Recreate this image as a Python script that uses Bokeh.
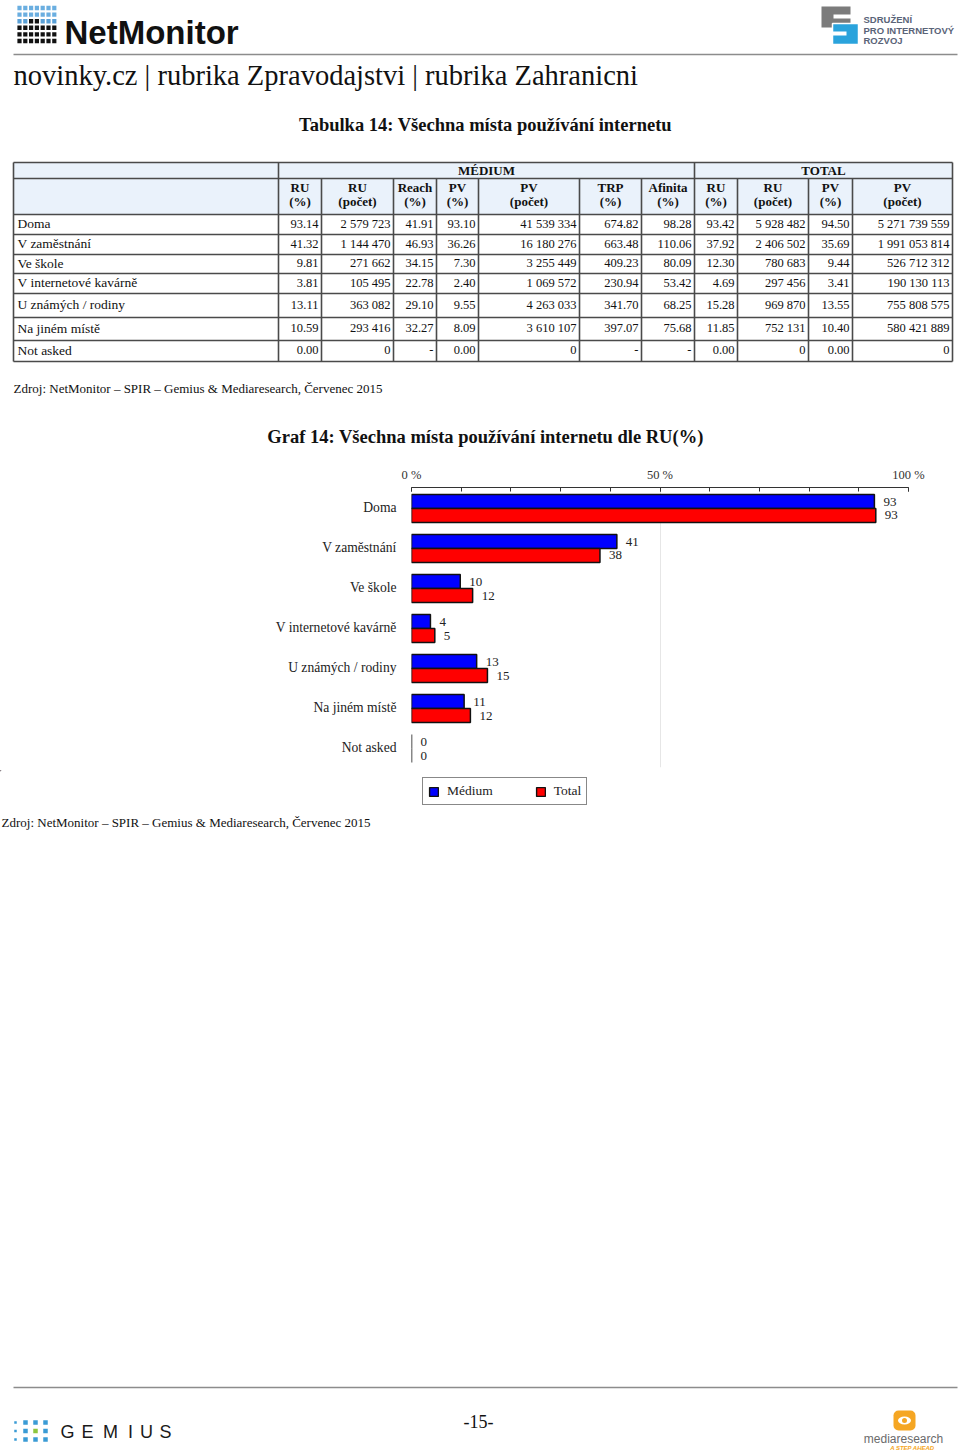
import numpy as np
from bokeh.plotting import figure
from bokeh.layouts import column
from bokeh.models import Range1d, FactorRange, FixedTicker, Legend, LegendItem, ColumnDataSource
from bokeh.transform import dodge
from bokeh.core.properties import value
from bokeh.embed import file_html
from bokeh.resources import INLINE

SERIF = "Liberation Serif"
SANS = "Liberation Sans"

# ---------------- data ----------------
categories = ["Doma", "V zaměstnání", "Ve škole", "V internetové kavárně",
              "U známých / rodiny", "Na jiném místě", "Not asked"]
med_ru_pct = [93.14, 41.32, 9.81, 3.81, 13.11, 10.59, 0.00]
med_ru_cnt = [2579723, 1144470, 271662, 105495, 363082, 293416, 0]
med_reach = [41.91, 46.93, 34.15, 22.78, 29.10, 32.27, None]
med_pv_pct = [93.10, 36.26, 7.30, 2.40, 9.55, 8.09, 0.00]
med_pv_cnt = [41539334, 16180276, 3255449, 1069572, 4263033, 3610107, 0]
med_trp = [674.82, 663.48, 409.23, 230.94, 341.70, 397.07, None]
med_afinita = [98.28, 110.06, 80.09, 53.42, 68.25, 75.68, None]
tot_ru_pct = [93.42, 37.92, 12.30, 4.69, 15.28, 11.85, 0.00]
tot_ru_cnt = [5928482, 2406502, 780683, 297456, 969870, 752131, 0]
tot_pv_pct = [94.50, 35.69, 9.44, 3.41, 13.55, 10.40, 0.00]
tot_pv_cnt = [5271739559, 1991053814, 526712312, 190130113, 755808575, 580421889, 0]

group_labels = ["MÉDIUM", "TOTAL"]
col_headers = [("RU", "(%)"), ("RU", "(počet)"), ("Reach", "(%)"), ("PV", "(%)"),
               ("PV", "(počet)"), ("TRP", "(%)"), ("Afinita", "(%)"),
               ("RU", "(%)"), ("RU", "(počet)"), ("PV", "(%)"), ("PV", "(počet)")]
series_names = ["Médium", "Total"]
x_ticks = [0, 50, 100]
x_tick_labels = ["0 %", "50 %", "100 %"]

page_title = "novinky.cz | rubrika Zpravodajstvi | rubrika Zahranicni"
table_title = "Tabulka 14: Všechna místa používání internetu"
chart_title = "Graf 14: Všechna místa používání internetu dle RU(%)"
source_text = "Zdroj: NetMonitor – SPIR – Gemius & Mediaresearch, Červenec 2015"

BLUE = "#0000ff"
RED = "#ff0000"


def fmt_pct(v):
    return "-" if v is None else f"{v:.2f}"


def fmt_cnt(v):
    return "-" if v is None else f"{v:,}".replace(",", " ")


W = 960


def page_fig(h, top, bottom):
    p = figure(width=W, height=h, x_range=Range1d(0, 960), y_range=Range1d(bottom, top),
               output_backend="svg", toolbar_location=None, min_border=0,
               x_axis_location=None, y_axis_location=None, frame_align=False)
    p.grid.visible = False
    p.outline_line_color = None
    p.background_fill_color = "white"
    p.border_fill_color = "white"
    return p


def txt(p, x, y, t, size, font=SERIF, style="normal", align="left", color="#111111"):
    p.text(x=[x], y=[y], text=[t], text_font=value(font), text_font_size=f"{size}px",
           text_font_style=style, text_align=align, text_baseline="middle", text_color=color)


# ================= Figure A: header + table =================
pa = page_fig(450, 0, 450)

# NetMonitor logo dots
gx, gy = np.meshgrid(np.arange(7), np.arange(6))
gx = gx.ravel(); gy = gy.ravel()
dot_colors = []
for cx, cy in zip(gx, gy):
    if cy < 2:
        dot_colors.append("#6aaee0")
    elif cy == 2:
        dot_colors.append("#111111" if cx in (2, 3) else "#5aa0d6")
    else:
        dot_colors.append("#111111")
pa.rect(x=19 + gx * 5.8, y=7.5 + gy * 6.6, width=4.2, height=4.4, fill_color=dot_colors, line_color=None)
txt(pa, 64, 32, "NetMonitor", 33, font=SANS, style="bold", color="#111111")

# SPIR logo
pa.quad(left=[821], right=[850], top=[6], bottom=[27], fill_color="#7b7b7b", line_color=None)
pa.quad(left=[833], right=[851], top=[14], bottom=[18], fill_color="white", line_color=None)
pa.quad(left=[832], right=[858], top=[23], bottom=[44], fill_color="#2aa3dc", line_color="white", line_width=1.5)
pa.quad(left=[831], right=[846], top=[31], bottom=[35], fill_color="white", line_color=None)
for i, t in enumerate(["SDRUŽENÍ", "PRO INTERNETOVÝ", "ROZVOJ"]):
    txt(pa, 863, 19 + i * 10.5, t, 9.5, font=SANS, style="bold", color="#5a6478")

pa.segment(x0=[13], y0=[54], x1=[957], y1=[54], line_color="#8c8c8c", line_width=1.5)
txt(pa, 13, 75, page_title, 28.5)
txt(pa, 485, 124, table_title, 18.5, style="bold", align="center")

# table geometry
col_edges = [13, 278, 321, 393, 436, 478, 579, 641, 694, 737, 808, 852, 952]
row_edges = [162, 178, 214, 234, 254, 273, 293, 317, 340, 361]

pa.quad(left=[13], right=[952], top=[162], bottom=[214], fill_color="#eaf2fb", line_color=None)

line_col = "#4a4a4a"
pa.segment(x0=[13] * len(row_edges), x1=[952] * len(row_edges), y0=row_edges, y1=row_edges,
           line_color=line_col, line_width=1.3)
full_v = [13, 278, 694, 952]
pa.segment(x0=full_v, x1=full_v, y0=[162] * 4, y1=[361] * 4, line_color=line_col, line_width=1.6)
inner_v = [c for c in col_edges if c not in full_v]
pa.segment(x0=inner_v, x1=inner_v, y0=[178] * len(inner_v), y1=[361] * len(inner_v),
           line_color=line_col, line_width=1.6)

txt(pa, (278 + 694) / 2, 169.5, group_labels[0], 13, style="bold", align="center")
txt(pa, (694 + 952) / 2, 169.5, group_labels[1], 13, style="bold", align="center")
for i, (l1, l2) in enumerate(col_headers):
    cx = (col_edges[i + 1] + col_edges[i + 2]) / 2
    txt(pa, cx, 186.5, l1, 13, style="bold", align="center")
    txt(pa, cx, 201, l2, 13, style="bold", align="center")

table_cols = [
    [fmt_pct(v) for v in med_ru_pct],
    [fmt_cnt(v) for v in med_ru_cnt],
    [fmt_pct(v) for v in med_reach],
    [fmt_pct(v) for v in med_pv_pct],
    [fmt_cnt(v) for v in med_pv_cnt],
    [fmt_pct(v) for v in med_trp],
    [fmt_pct(v) for v in med_afinita],
    [fmt_pct(v) for v in tot_ru_pct],
    [fmt_cnt(v) for v in tot_ru_cnt],
    [fmt_pct(v) for v in tot_pv_pct],
    [fmt_cnt(v) for v in tot_pv_cnt],
]
row_centers = [(row_edges[i + 2] + row_edges[i + 3]) / 2 - 1 for i in range(len(categories))]
pa.text(x=[17] * len(categories), y=row_centers, text=categories, text_font=value(SERIF),
        text_font_size="13.5px", text_align="left", text_baseline="middle", text_color="#111111")
for j, colvals in enumerate(table_cols):
    xr = col_edges[j + 2] - 3
    pa.text(x=[xr] * len(colvals), y=row_centers, text=colvals, text_font=value(SERIF),
            text_font_size="12.5px", text_align="right", text_baseline="middle", text_color="#111111")

txt(pa, 13, 388, source_text, 13)
txt(pa, 485, 436, chart_title, 18.5, style="bold", align="center")

# ================= Figure B: bar chart =================
src = ColumnDataSource(dict(
    cat=categories, med=med_ru_pct, tot=tot_ru_pct,
    med_lbl=[f"{v:.0f}" for v in med_ru_pct],
    tot_lbl=[f"{v:.0f}" for v in tot_ru_pct],
))
pb = figure(width=W, height=320, y_range=FactorRange(factors=list(reversed(categories))),
            x_range=Range1d(0, 100), x_axis_location="above",
            output_backend="svg", toolbar_location=None, frame_align=False,
            min_border_left=411, min_border_right=52, min_border_top=37, min_border_bottom=3)
pb.outline_line_color = None
pb.background_fill_color = "white"
pb.border_fill_color = "white"

xa = pb.xaxis[0]
xa.ticker = FixedTicker(ticks=x_ticks, minor_ticks=list(range(0, 101, 10)))
xa.major_label_overrides = {t: l for t, l in zip(x_ticks, x_tick_labels)}
xa.major_tick_in = 4
xa.major_tick_out = 0
xa.minor_tick_in = 4
xa.minor_tick_out = 0
xa.axis_line_color = "#333333"
xa.major_tick_line_color = "#333333"
xa.minor_tick_line_color = "#333333"
xa.major_label_standoff = 6
xa.major_label_text_font = SERIF
xa.major_label_text_font_size = "12.5px"
xa.major_label_text_color = "#333333"

ya = pb.yaxis[0]
ya.axis_line_color = None
ya.major_tick_line_color = None
ya.minor_tick_line_color = None
ya.major_label_standoff = 9
ya.major_label_text_font = SERIF
ya.major_label_text_font_size = "13.6px"
ya.major_label_text_color = "#222222"

pb.xgrid.ticker = FixedTicker(ticks=[50, 100])
pb.xgrid.grid_line_color = "#e6e6e6"
pb.ygrid.grid_line_color = None

r_med = pb.hbar(y=dodge("cat", 0.15, range=pb.y_range), left=0, right="med", height=0.35,
                source=src, fill_color=BLUE, line_color="#111111", line_width=1.5)
r_tot = pb.hbar(y=dodge("cat", -0.2, range=pb.y_range), left=0, right="tot", height=0.35,
                source=src, fill_color=RED, line_color="#111111", line_width=1.5)
pb.text(x="med", y=dodge("cat", 0.15, range=pb.y_range), text="med_lbl", source=src,
        x_offset=9, text_baseline="middle", text_font=value(SERIF), text_font_size="13px",
        text_color="#222222")
pb.text(x="tot", y=dodge("cat", -0.2, range=pb.y_range), text="tot_lbl", source=src,
        x_offset=9, text_baseline="middle", text_font=value(SERIF), text_font_size="13px",
        text_color="#222222")

# ================= Figure C: legend, source, footer =================
pc = page_fig(686, 770, 1456)

# legend swatches styled like the two bar series (their single bar lies far outside the visible range)
lg_med = pc.hbar(y=[-5000], left=[-5000], right=[-4999], height=1, fill_color=BLUE, line_color="#111111", line_width=1.4)
lg_tot = pc.hbar(y=[-5000], left=[-5000], right=[-4999], height=1, fill_color=RED, line_color="#111111", line_width=1.4)
leg = Legend(items=[LegendItem(label=series_names[0], renderers=[lg_med]),
                    LegendItem(label=series_names[1], renderers=[lg_tot])],
             orientation="horizontal", location=(422, 1456 - 805),
             border_line_color="#111111", border_line_width=1.5,
             padding=5, spacing=42, glyph_width=11, glyph_height=11, label_standoff=8,
             label_height=12, label_text_font=SERIF, label_text_font_size="13.5px",
             label_text_color="#222222", background_fill_color="white", background_fill_alpha=1,
             margin=0)
pc.add_layout(leg)

txt(pc, 1, 822, source_text, 13)
pc.segment(x0=[13], y0=[1387], x1=[957], y1=[1387], line_color="#8c8c8c", line_width=1.5)

# Gemius logo
dx, dy = np.meshgrid(np.arange(4), np.arange(3))
dx = dx.ravel(); dy = dy.ravel()
gcol = ["#8dc63f" if (a == 2 and b == 1) else "#3a9bd5" for a, b in zip(dx, dy)]
gsize = [2.5 if a == 0 else 4.5 for a in dx]
pc.rect(x=15 + dx * 10, y=1422 + dy * 8.5, width=gsize, height=gsize, fill_color=gcol, line_color=None)
for ch, cx in zip("GEMIUS", [67, 87, 110, 130, 146, 165]):
    txt(pc, cx, 1431, ch, 18, font=SANS, align="center", color="#1a1a1a")

txt(pc, 478, 1421, "-15-", 18, align="center")

# Mediaresearch logo
pc.rect(x=[904], y=[1420], width=22, height=20, fill_color="#f5a623", line_color=None,
        border_radius=5)
pc.ellipse(x=[904], y=[1420], width=13, height=8, fill_color="white", line_color=None)
pc.ellipse(x=[904], y=[1420], width=5, height=5, fill_color="#f5a623", line_color=None)
txt(pc, 903, 1438, "mediaresearch", 12, font=SANS, align="center", color="#6b6b6b")
txt(pc, 912, 1447, "A STEP AHEAD", 6, font=SANS, style="bold italic", align="center", color="#f5a623")

layout = column(pa, pb, pc, spacing=0)
open("out.html", "w").write(file_html(layout, INLINE))
